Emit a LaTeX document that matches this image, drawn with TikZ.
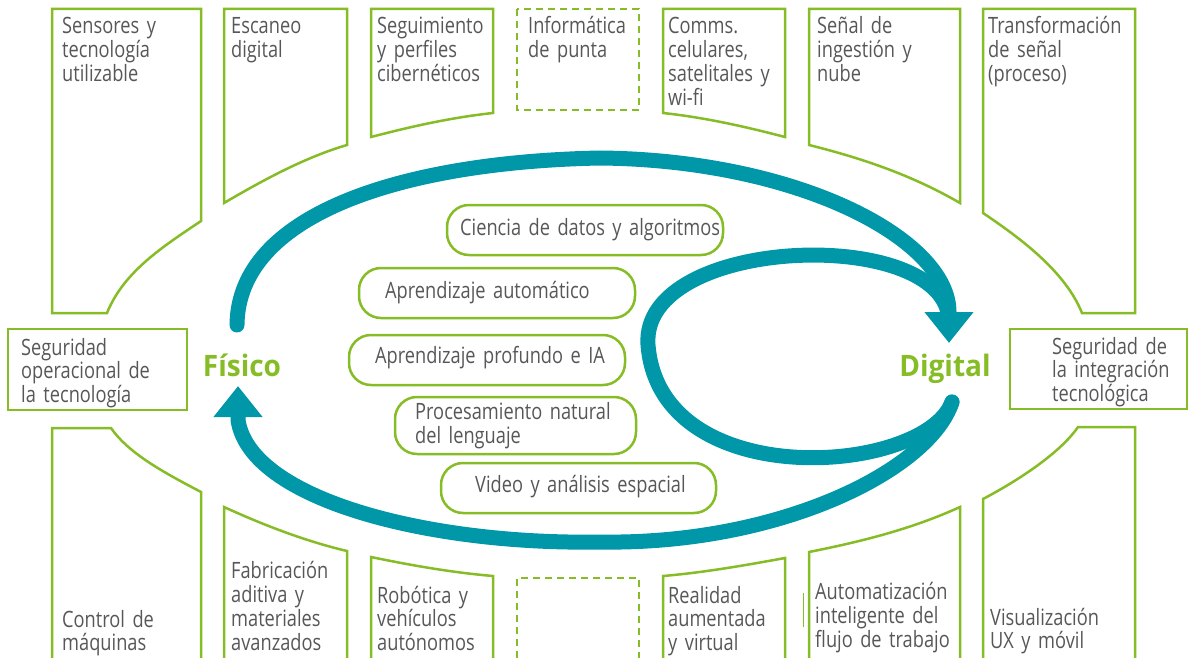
\documentclass[tikz,border=0pt]{standalone}
\usepackage{fontspec}
\setmainfont{Open Sans}[FakeStretch=0.81,WordSpace=0.7]
\newfontfamily\labfont{Open Sans}[FakeStretch=0.95]
\usetikzlibrary{arrows.meta}
\definecolor{dgreen}{HTML}{86BC25}
\definecolor{dteal}{HTML}{0097A9}
\definecolor{dtext}{HTML}{575757}
\begin{document}
\begin{tikzpicture}[x=1pt,y=-1pt,
  box/.style={draw=dgreen, line width=2.5pt, line join=miter},
  dbox/.style={draw=dgreen, line width=2.5pt, dash pattern=on 7pt off 5pt},
  pill/.style={draw=dgreen, line width=2.5pt, rounded corners=22pt, shape=rectangle, inner sep=0pt},
  lbl/.style={anchor=base west, inner sep=0pt, text=dtext, align=left, text width=300pt,
    font=\fontsize{22.5}{#1}\selectfont},
  lbl/.default=24,
  big/.style={anchor=base, inner sep=0pt, text=dgreen, font=\labfont\bfseries\fontsize{29.5}{30}\selectfont},
  flow/.style={draw=dteal, line width=15pt, line cap=round},
  tip/.style={-{Triangle[length=31pt,width=47pt]}}
]
\useasboundingbox (0,0) rectangle (1188,658);
\clip (0,0) rectangle (1188,658);

% ---- top row boxes ----
\draw[box] (52,9) -- (201,9) -- (201,221) .. controls (164,246) and (124,271) .. (107,313) -- (52,313) -- cycle;
\draw[box] (224,9) -- (347,9) -- (347,145) .. controls (306,157) and (265,179) .. (224,203) -- cycle;
\draw[box] (371,9) -- (493,9) -- (493,113) .. controls (452,117.4) and (412,126.3) .. (371,137) -- cycle;
\draw[dbox] (517,9) rectangle (639,110);
\draw[box] (663,9) -- (785,9) -- (785,137) .. controls (744,126.3) and (704,117.4) .. (663,113) -- cycle;
\draw[box] (809,9) -- (960,9) -- (960,203) .. controls (910,174) and (859,157.5) .. (809,145) -- cycle;
\draw[box] (983,9) -- (1135,9) -- (1135,313) -- (1082,313) .. controls (1065,271) and (1020,238) .. (983,213) -- cycle;

% ---- middle boxes ----
\draw[box] (8,329) rectangle (187,410);
\draw[box] (1010,329) rectangle (1187,409);

% ---- bottom row boxes ----
\draw[box] (52,670) -- (52,428) -- (111,428) .. controls (129,454) and (165,473) .. (201,492) -- (201,670);
\draw[box] (224,670) -- (224,507) .. controls (265,525.7) and (306,541.3) .. (347,551) -- (347,670);
\draw[box] (371,670) -- (371,557) .. controls (412,565.5) and (452,572.5) .. (493,576) -- (493,670);
\draw[dbox] (517,670) -- (517,578) -- (639,578) -- (639,670);
\draw[box] (663,670) -- (663,576) .. controls (704,572.5) and (744,565.5) .. (785,558) -- (785,670);
\draw[box] (809,670) -- (809,552) .. controls (859,542) and (910,529.8) .. (960,507) -- (960,670);
\draw[box] (983,670) -- (983,499) .. controls (1019,480) and (1060,453) .. (1078,427) -- (1135,427) -- (1135,670);
\draw[dgreen, line width=1pt] (803,593) -- (803,627);

% ---- box texts ----
\node[lbl] (t1) at (62,34) {Sensores y\\tecnología\\utilizable};
\node[lbl] (t2) at (231,34) {Escaneo\\digital};
\node[lbl] (t3) at (377,34) {Seguimiento\\y perfiles\\cibernéticos};
\node[lbl] (t4) at (528,34) {Informática\\de punta};
\node[lbl] (t5) at (668,34) {Comms.\\celulares,\\satelitales y\\wi-fi};
\node[lbl] (t6) at (817,34) {Señal de\\ingestión y\\nube};
\node[lbl] (t7) at (988,34) {Transformación\\de señal\\(proceso)};
\node[lbl=21.5] (m1) at (21,355) {Seguridad\\operacional de\\la tecnología};
\node[lbl=21.5] (m2) at (1052,354) {Seguridad de\\la integración\\tecnológica};
\node[lbl=23.5] (b1) at (62,627) {Control de\\máquinas};
\node[lbl] (b2) at (231,578) {Fabricación\\aditiva y\\materiales\\avanzados};
\node[lbl=23.5] (b3) at (377,603) {Robótica y\\vehículos\\autónomos};
\node[lbl=23.5] (b4) at (668,603) {Realidad\\aumentada\\y virtual};
\node[lbl] (b5) at (815,599) {Automatización\\inteligente del\\flujo de trabajo};
\node[lbl=23.5] (b6) at (990,625) {Visualización\\UX y móvil};

% ---- pills ----
\node[pill, minimum width=276pt, minimum height=50pt] (p1) at (585,230) {};
\node[pill, minimum width=276pt, minimum height=50pt] (p2) at (497,293) {};
\node[pill, minimum width=276pt, minimum height=50pt] (p3) at (487,360) {};
\node[pill, minimum width=241pt, minimum height=57pt] (p4) at (515.5,425.5) {};
\node[pill, minimum width=275pt, minimum height=50pt] (p5) at (578.5,488) {};
\node[lbl] (q1) at (460,235) {Ciencia de datos y algoritmos};
\node[lbl] (q2) at (385,298) {Aprendizaje automático};
\node[lbl] (q3) at (375,363) {Aprendizaje profundo e IA};
\node[lbl] (q4) at (415,419) {Procesamiento natural\\del lenguaje};
\node[lbl] (q5) at (475,492) {Video y análisis espacial};

% ---- labels ----
\node[big] (fis) at (242,376) {Físico};
\node[big] (dig) at (945,376) {Digital};

% ---- flows ----
\coordinate (fisout) at (237,325);
\coordinate (fisin) at (238,386);
\coordinate (digin) at (949,343);
\coordinate (digout) at (952,402);
\draw[flow] (digout) .. controls (925,475) and (660,495) .. (648,345)
  .. controls (640,235) and (945,225) .. (949,320);
\draw[flow, tip] (fisout) .. controls (238,215) and (400,162) .. (600,158)
  .. controls (800,160) and (949,240) .. (949,312) -- (digin);
\draw[flow, tip] (digout) .. controls (930,470) and (780,545) .. (600,542)
  .. controls (430,545) and (250,500) .. (238,420) -- (fisin);
\end{tikzpicture}
\end{document}
